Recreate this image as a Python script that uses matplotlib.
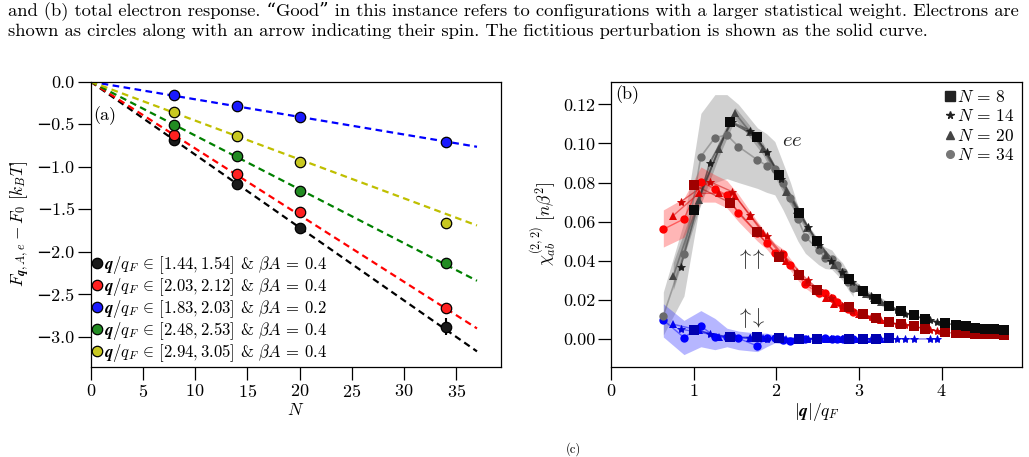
import matplotlib
matplotlib.use("Agg")
import matplotlib.pyplot as plt
from matplotlib.lines import Line2D
import numpy as np

plt.rcParams['font.family'] = ['cmr10', 'DejaVu Serif']
plt.rcParams['mathtext.fontset'] = 'cm'
plt.rcParams['axes.formatter.use_mathtext'] = True
plt.rcParams['axes.unicode_minus'] = True

# ---------------- caption ----------------
caption_line1 = ("and (b) total electron response. \u201cGood\u201d in this instance refers to configurations "
                 "with a larger statistical weight. Electrons are")
caption_line2 = ("shown as circles along with an arrow indicating their spin. The fictitious perturbation "
                 "is shown as the solid curve.")

# ---------------- panel (a) data ----------------
N_vals = [8, 14, 20, 34]
a_labels = [r'$\boldsymbol{q}/q_F\,\in\,[1.44, 1.54]$ & $\beta A\,=\,0.4$',
            r'$\boldsymbol{q}/q_F\,\in\,[2.03, 2.12]$ & $\beta A\,=\,0.4$',
            r'$\boldsymbol{q}/q_F\,\in\,[1.83, 2.03]$ & $\beta A\,=\,0.2$',
            r'$\boldsymbol{q}/q_F\,\in\,[2.48, 2.53]$ & $\beta A\,=\,0.4$',
            r'$\boldsymbol{q}/q_F\,\in\,[2.94, 3.05]$ & $\beta A\,=\,0.4$']
a_black = [-0.68, -1.20, -1.72, -2.88]
a_red = [-0.63, -1.09, -1.53, -2.66]
a_blue = [-0.16, -0.29, -0.42, -0.71]
a_green = [-0.51, -0.87, -1.28, -2.13]
a_yellow = [-0.36, -0.64, -0.94, -1.66]
a_err_black = [0.02, 0.02, 0.03, 0.10]
fit_x = [0, 37]
fit_end = [-3.17, -2.90, -0.765, -2.34, -1.69]
a_colors = ['#1a1a1a', '#ff2020', '#1a1aff', '#228b22', '#c8c820']
line_colors = ['k', 'r', 'b', 'g', 'y']

# ---------------- panel (b) data ----------------
# N = 8 (squares)
q8 = [1.00, 1.44, 1.76, 2.03, 2.27, 2.49, 2.88, 3.05, 3.20, 3.36, 3.51, 3.66, 3.80,
      4.04, 4.17, 4.29, 4.41, 4.53, 4.64, 4.75]
ee8 = [0.066, 0.111, 0.1035, 0.084, 0.0646, 0.050, 0.0305, 0.0247, 0.0203, 0.017, 0.0143,
       0.0120, 0.0102, 0.0080, 0.0072, 0.0064, 0.0058, 0.0053, 0.0049, 0.0045]
uu8 = [0.0788, 0.0697, 0.0546, 0.042, 0.0327, 0.025, 0.0165, 0.0128, 0.0106, 0.0085, 0.0075,
       0.0066, 0.0052, 0.0034, 0.0029, 0.0028, 0.0026, 0.0024, 0.0023, 0.0021]
q8_ud = [1.00, 1.44, 1.76, 2.03, 2.27, 2.49, 2.88, 3.05, 3.20, 3.36]
ud8 = [0.0046, 0.0008, 0.0010, 0.0004, 0.0002, 0.0002, 0.0001, 0.0001, 0.0002, 0.0003]

# N = 14 (stars)
q14 = [0.84, 1.19, 1.46, 1.68, 1.88, 2.06, 2.38, 2.52, 2.66, 2.79, 2.91, 3.03, 3.14,
       3.36, 3.46, 3.56, 3.66, 3.86, 3.95]
ee14 = [0.037, 0.090, 0.111, 0.1066, 0.0958, 0.082, 0.0575, 0.048, 0.040, 0.034, 0.029,
        0.025, 0.022, 0.017, 0.015, 0.013, 0.0118, 0.0095, 0.0085]
uu14 = [0.0702, 0.0805, 0.0754, 0.0634, 0.0529, 0.044, 0.030, 0.025, 0.021, 0.017, 0.0145,
        0.0128, 0.011, 0.0085, 0.0078, 0.0070, 0.0063, 0.0048, 0.0042]
ud14 = [0.005, 0.0025, 0.0008, 0.0003, 0.0002, 0.0001, 0.0001, 0.0, 0.0001, 0.0, 0.0,
        0.0001, 0.0, 0.0, 0.0001, 0.0, 0.0, 0.0, 0.0]

# N = 20 (triangles)
q20 = [0.75, 1.06, 1.30, 1.50, 1.68, 1.84, 2.12, 2.25, 2.37, 2.49, 2.60, 2.70, 2.81,
       3.00, 3.09, 3.18, 3.27, 3.35]
ee20 = [0.032, 0.071, 0.097, 0.1154, 0.106, 0.097, 0.075, 0.066, 0.057, 0.050, 0.043,
        0.038, 0.033, 0.026, 0.023, 0.021, 0.019, 0.017]
ee20_err = [0.007, 0.005, 0.004, 0.003, 0.003, 0.003, 0.003, 0.003, 0.002, 0.002, 0.002,
            0.002, 0.002, 0.002, 0.002, 0.002, 0.002, 0.002]
uu20 = [0.0631, 0.0745, 0.0745, 0.0731, 0.063, 0.054, 0.040, 0.034, 0.029, 0.025, 0.021,
        0.018, 0.016, 0.013, 0.012, 0.011, 0.0095, 0.0085]
ud20 = [0.0075, 0.0045, 0.0010, 0.0010, 0.0004, 0.0003, 0.0002, 0.0001, 0.0002, 0.0001,
        0.0001, 0.0002, 0.0001, 0.0001, 0.0002, 0.0001, 0.0002, 0.0001]

# N = 34 (circles)
q34 = [0.63, 0.88, 1.085, 1.255, 1.40, 1.54, 1.77, 1.88, 1.98, 2.08, 2.17, 2.26, 2.35,
       2.51, 2.59, 2.67, 2.73, 2.80, 2.87, 2.93]
ee34 = [0.0119, 0.0433, 0.0933, 0.103, 0.1043, 0.0984, 0.0916, 0.0887, 0.0868, 0.0796,
        0.072, 0.0614, 0.0523, 0.0455, 0.0413, 0.041, 0.0379, 0.0344, 0.0293, 0.0259]
ee34_lo = [0.002, 0.022, 0.072, 0.080, 0.082, 0.080, 0.077, 0.075, 0.0737, 0.066,
           0.058, 0.050, 0.0438, 0.038, 0.036, 0.0356, 0.033, 0.030, 0.025, 0.0217]
ee34_hi = [0.024, 0.060, 0.1154, 0.125, 0.125, 0.120, 0.108, 0.105, 0.101, 0.090,
           0.080, 0.068, 0.057, 0.049, 0.047, 0.0455, 0.042, 0.039, 0.034, 0.0285]
uu34 = [0.0561, 0.0614, 0.0805, 0.0766, 0.0737, 0.0643, 0.054, 0.0493, 0.0442, 0.0433,
        0.0379, 0.0327, 0.028, 0.0234, 0.0234, 0.0208, 0.019, 0.0165, 0.0152, 0.014]
uu34_lo = [0.047, 0.052, 0.070, 0.070, 0.067, 0.060, 0.050, 0.046, 0.041, 0.040,
           0.035, 0.030, 0.026, 0.021, 0.022, 0.019, 0.017, 0.015, 0.014, 0.013]
uu34_hi = [0.066, 0.072, 0.088, 0.084, 0.081, 0.074, 0.060, 0.054, 0.049, 0.046,
           0.041, 0.036, 0.031, 0.026, 0.025, 0.023, 0.021, 0.018, 0.017, 0.015]
ud34 = [0.0097, 0.0007, 0.0066, 0.0012, 0.0010, 0.0003, -0.0036, 0.0007, 0.0004, -0.0005,
        -0.0010, 0.0002, 0.0001, -0.0002, 0.0003, 0.0001, -0.0001, 0.0002, 0.0001, 0.0000]
ud34_lo = [0.001, -0.008, -0.004, -0.0055, -0.004, -0.0055, -0.0065, -0.004, -0.002,
           -0.0025, -0.0025, -0.002, -0.0015, -0.0012, -0.001, -0.001, -0.001, -0.001,
           -0.001, -0.001]
ud34_hi = [0.018, 0.0095, 0.0145, 0.0105, 0.0055, 0.004, 0.003, 0.003, 0.002, 0.0015,
           0.0012, 0.001, 0.001, 0.001, 0.001, 0.001, 0.001, 0.001, 0.001, 0.001]

b_legend = [r'$N\,=\,8$', r'$N\,=\,14$', r'$N\,=\,20$', r'$N\,=\,34$']

# ---------------- figure ----------------
W, H = 1029, 457
fig = plt.figure(figsize=(W / 100, H / 100), dpi=100)

fig.text(8 / W, 1 - 15 / H, caption_line1, fontsize=13.3, va='baseline', ha='left')
fig.text(8 / W, 1 - 36 / H, caption_line2, fontsize=13.3, va='baseline', ha='left')
fig.text(566 / W, 1 / H, '(c)', fontsize=9, va='bottom', ha='left')

def px_axes(x0, y0, x1, y1):
    return fig.add_axes([x0 / W, 1 - y1 / H, (x1 - x0) / W, (y1 - y0) / H])

FS = 13
LFS = 12.5

# ---- panel (a)
ax1 = px_axes(90.7, 81.7, 501, 366.7)
series_a = [a_black, a_red, a_blue, a_green, a_yellow]
for end, lc in zip(fit_end, line_colors):
    ax1.plot(fit_x, [0, end], ls=(0, (3, 2)), color=lc, lw=1.6, zorder=2)
handles = []
for i, (vals, c) in enumerate(zip(series_a, a_colors)):
    if i == 0:
        ax1.errorbar(N_vals, vals, yerr=a_err_black, fmt='none', ecolor='k', elinewidth=1.5, zorder=3)
    ax1.plot(N_vals, vals, 'o', ms=7.5, mfc=c, mec='k', mew=0.9, zorder=4)
    handles.append(Line2D([], [], marker='o', ls='none', ms=7.5, mfc=c, mec='k', mew=0.9))
ax1.legend(handles, a_labels, loc='lower left', frameon=False, fontsize=12,
           handlelength=0.5, handletextpad=0.15, labelspacing=0.0,
           borderaxespad=0.0, borderpad=0.15)
ax1.set_xlim(0, 39.3)
ax1.set_ylim(-3.35, 0)
ax1.set_xticks([0, 5, 10, 15, 20, 25, 30, 35])
ax1.set_yticks([0.0, -0.5, -1.0, -1.5, -2.0, -2.5, -3.0])
ax1.set_yticklabels(['0.0', '−0.5', '−1.0', '−1.5', '−2.0', '−2.5', '−3.0'])
ax1.set_xlabel(r'$N$', fontsize=LFS, labelpad=2)
ax1.set_ylabel(r'$F_{\boldsymbol{q},A,e} - F_0\ [k_BT]$', fontsize=LFS, labelpad=3)
ax1.text(0.005, 0.88, '(a)', transform=ax1.transAxes, fontsize=FS, va='center', ha='left')

# ---- panel (b)
ax2 = px_axes(611.3, 81.7, 1021.7, 366.7)
# shaded bands
ax2.fill_between(q34, ee34_lo, ee34_hi, color='#bdbdbd', alpha=0.7, lw=0, zorder=1)
ax2.fill_between(q20, np.array(ee20) - np.array(ee20_err), np.array(ee20) + np.array(ee20_err),
                 color='#555555', alpha=0.35, lw=0, zorder=2)
ax2.fill_between(q34, uu34_lo, uu34_hi, color='#ff3030', alpha=0.35, lw=0, zorder=2)
ax2.fill_between(q34, ud34_lo, ud34_hi, color='#3030ff', alpha=0.35, lw=0, zorder=2)

ee_cols = ['#0a0a0a', '#1e1e1e', '#444444', '#6a6a6a']
uu_cols = ['#a00000', '#cc0000', '#e00000', '#ff0000']
ud_cols = ['#0000b0', '#0000dd', '#0000f0', '#0000ff']
mk = ['s', '*', '^', 'o']
ms = [7.0, 6.0, 6.0, 6.0]
qs = [q8, q14, q20, q34]
ee_all = [ee8, ee14, ee20, ee34]
uu_all = [uu8, uu14, uu20, uu34]
ud_all = [ud8, ud14, ud20, ud34]
qs_ud = [q8_ud, q14, q20, q34]

for j in range(4):
    ax2.plot(qs_ud[j], ud_all[j], color=ud_cols[j], lw=1.0, alpha=0.5, zorder=3)
    ax2.plot(qs[j], uu_all[j], color=uu_cols[j], lw=1.0, alpha=0.5, zorder=3)
    ax2.plot(qs[j], ee_all[j], color=ee_cols[j], lw=1.2, alpha=0.5, zorder=3)
for j in [3, 2, 1, 0]:
    mew = 0.6 if mk[j] == '*' else 0
    ax2.plot(qs_ud[j], ud_all[j], mk[j], color=ud_cols[j], ms=ms[j], mew=mew, zorder=4)
    ax2.plot(qs[j], uu_all[j], mk[j], color=uu_cols[j], ms=ms[j], mew=mew, zorder=5)
    ax2.plot(qs[j], ee_all[j], mk[j], color=ee_cols[j], ms=ms[j], mew=mew, zorder=6)

leg_cols = ['#222222', '#222222', '#444444', '#777777']
hb = [Line2D([], [], marker=mk[j], ls='none', color=leg_cols[j], ms=ms[j] - 0.5) for j in range(4)]
ax2.legend(hb, b_legend, loc='upper right', frameon=False, fontsize=12.5,
           handlelength=0.5, handletextpad=0.2, labelspacing=0.2,
           borderaxespad=0.2, borderpad=0.2)

ax2.text(2.19, 0.101, r'$ee$', fontsize=15, ha='center', va='center', color='#222222')
ax2.text(1.68, 0.041, r'$\uparrow\!\!\uparrow$', fontsize=16, ha='center', va='center', color='#333333')
ax2.text(1.69, 0.0105, r'$\uparrow\!\!\downarrow$', fontsize=16, ha='center', va='center', color='#333333')
ax2.text(0.01, 0.953, '(b)', transform=ax2.transAxes, fontsize=FS, va='center', ha='left')

ax2.set_xlim(0, 4.97)
ax2.set_ylim(-0.0142, 0.1316)
ax2.set_xticks([0, 1, 2, 3, 4])
ax2.set_yticks([0.0, 0.02, 0.04, 0.06, 0.08, 0.10, 0.12])
ax2.set_yticklabels(['0.00', '0.02', '0.04', '0.06', '0.08', '0.10', '0.12'])
ax2.set_xlabel(r'$|\boldsymbol{q}|/q_F$', fontsize=LFS, labelpad=2)
ax2.set_ylabel(r'$\chi^{(2,2)}_{ab}\ [n\beta^2]$', fontsize=LFS, labelpad=3)

for ax in (ax1, ax2):
    ax.tick_params(labelsize=FS, direction='out', length=9.5, width=0.9, pad=2)
    for s in ax.spines.values():
        s.set_linewidth(0.9)

fig.savefig('out.png', dpi=100)
